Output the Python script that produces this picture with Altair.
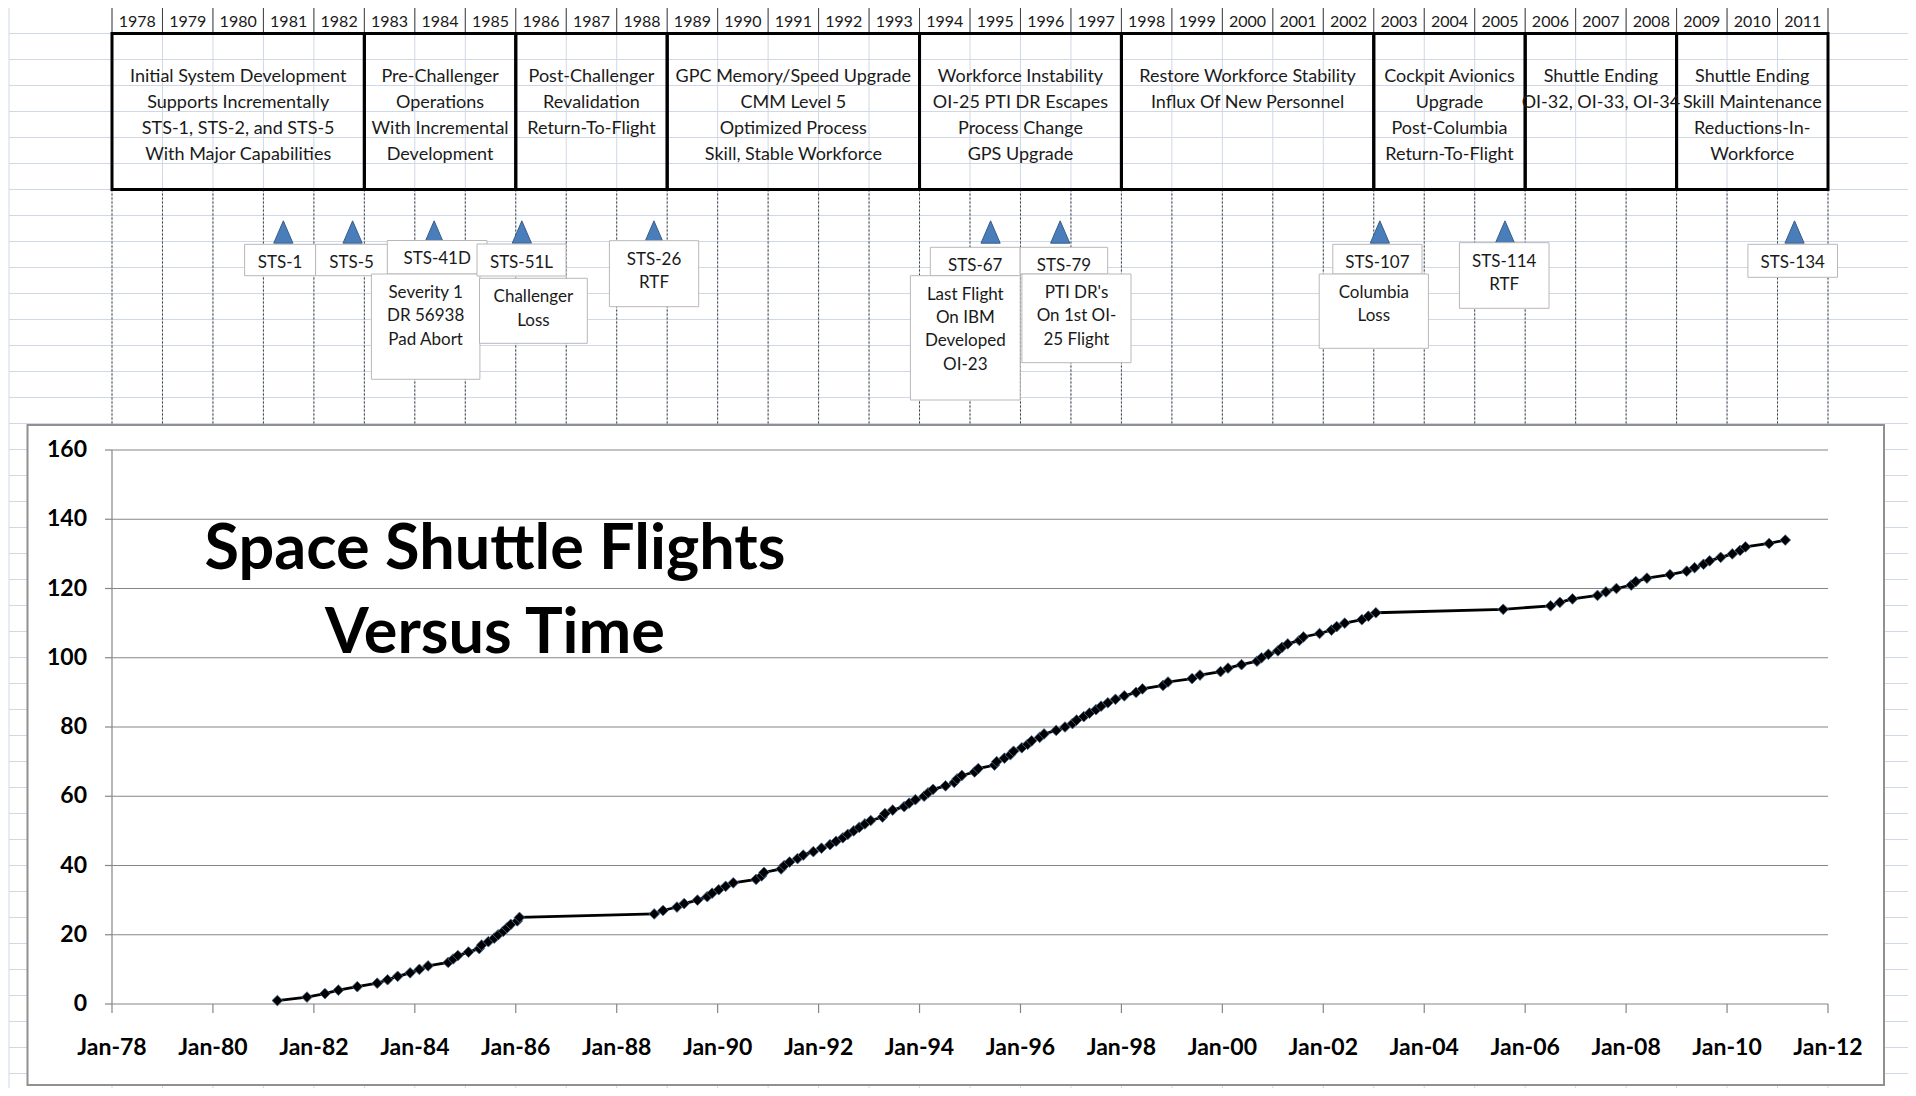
import altair as alt
import pandas as pd

# ---------------- data ----------------
years = list(range(1978, 2012))

phase_start = [1978, 1983, 1986, 1989, 1994, 1998, 2003, 2006, 2009]
phase_end = [1982, 1985, 1988, 1993, 1997, 2002, 2005, 2008, 2011]
phase_text = [
    "Initial System Development\nSupports Incrementally\nSTS-1, STS-2, and STS-5\nWith Major Capabilities",
    "Pre-Challenger\nOperations\nWith Incremental\nDevelopment",
    "Post-Challenger\nRevalidation\nReturn-To-Flight",
    "GPC Memory/Speed Upgrade\nCMM Level 5\nOptimized Process\nSkill, Stable Workforce",
    "Workforce Instability\nOI-25 PTI DR Escapes\nProcess Change\nGPS Upgrade",
    "Restore Workforce Stability\nInflux Of New Personnel",
    "Cockpit Avionics\nUpgrade\nPost-Columbia\nReturn-To-Flight",
    "Shuttle Ending\nOI-32, OI-33, OI-34",
    "Shuttle Ending\nSkill Maintenance\nReductions-In-\nWorkforce",
]

event_names = ["STS-1", "STS-5", "STS-41D", "STS-51L", "STS-26", "STS-67",
               "STS-79", "STS-107", "STS-114", "STS-134"]
event_dates = ["1981-05-25", "1982-10-08", "1984-05-20", "1986-02-14", "1988-09-27",
               "1995-05-30", "1996-10-15", "2003-02-14", "2005-08-08", "2011-05-04"]

label_texts = [
    "STS-1", "STS-5", "STS-41D", "Severity 1\nDR 56938\nPad Abort", "STS-51L",
    "Challenger\nLoss", "STS-26\nRTF", "STS-67", "Last Flight\nOn IBM\nDeveloped\nOI-23",
    "STS-79", "PTI DR's\nOn 1st OI-\n25 Flight", "STS-107", "Columbia\nLoss",
    "STS-114\nRTF", "STS-134",
]

flight_dates = [
    "1981-04-12", "1981-11-12", "1982-03-22", "1982-06-27", "1982-11-11", "1983-04-04",
    "1983-06-18", "1983-08-30", "1983-11-28", "1984-02-03", "1984-04-06", "1984-08-30",
    "1984-10-05", "1984-11-08", "1985-01-24", "1985-04-12", "1985-04-29", "1985-06-17",
    "1985-07-29", "1985-08-27", "1985-10-03", "1985-10-30", "1985-11-26", "1986-01-12",
    "1986-01-28", "1988-09-29", "1988-12-02", "1989-03-13", "1989-05-04", "1989-08-08",
    "1989-10-18", "1989-11-22", "1990-01-09", "1990-02-28", "1990-04-24", "1990-10-06",
    "1990-11-15", "1990-12-02", "1991-04-05", "1991-04-28", "1991-06-05", "1991-08-02",
    "1991-09-12", "1991-11-24", "1992-01-22", "1992-03-24", "1992-05-07", "1992-06-25",
    "1992-07-31", "1992-09-12", "1992-10-22", "1992-12-02", "1993-01-13", "1993-04-08",
    "1993-04-26", "1993-06-21", "1993-09-12", "1993-10-18", "1993-12-02", "1994-02-03",
    "1994-03-04", "1994-04-09", "1994-07-08", "1994-09-09", "1994-09-30", "1994-11-03",
    "1995-02-03", "1995-03-02", "1995-06-27", "1995-07-13", "1995-09-07", "1995-10-20",
    "1995-11-12", "1996-01-11", "1996-02-22", "1996-03-22", "1996-05-19", "1996-06-20",
    "1996-09-16", "1996-11-19", "1997-01-12", "1997-02-11", "1997-04-04", "1997-05-15",
    "1997-07-01", "1997-08-07", "1997-09-25", "1997-11-19", "1998-01-22", "1998-04-17",
    "1998-06-02", "1998-10-29", "1998-12-04", "1999-05-27", "1999-07-23", "1999-12-19",
    "2000-02-11", "2000-05-19", "2000-09-08", "2000-10-11", "2000-11-30", "2001-02-07",
    "2001-03-08", "2001-04-19", "2001-07-12", "2001-08-10", "2001-12-05", "2002-03-01",
    "2002-04-08", "2002-06-05", "2002-10-07", "2002-11-23", "2003-01-16", "2005-07-26",
    "2006-07-04", "2006-09-09", "2006-12-09", "2007-06-08", "2007-08-08", "2007-10-23",
    "2008-02-07", "2008-03-11", "2008-05-31", "2008-11-14", "2009-03-15", "2009-05-11",
    "2009-07-15", "2009-08-28", "2009-11-16", "2010-02-08", "2010-04-05", "2010-05-14",
    "2010-11-01", "2011-02-26",
]
flight_totals = [
    1, 2, 3, 4, 5, 6, 7, 8, 9, 10, 11, 12, 13, 14, 15, 16, 17, 18, 19, 20,
    21, 22, 23, 24, 25, 26, 27, 28, 29, 30, 31, 32, 33, 34, 35, 36, 37, 38, 39, 40,
    41, 42, 43, 44, 45, 46, 47, 48, 49, 50, 51, 52, 53, 54, 55, 56, 57, 58, 59, 60,
    61, 62, 63, 64, 65, 66, 67, 68, 69, 70, 71, 72, 73, 74, 75, 76, 77, 78, 79, 80,
    81, 82, 83, 84, 85, 86, 87, 88, 89, 90, 91, 92, 93, 94, 95, 96, 97, 98, 99, 100,
    101, 102, 103, 104, 105, 106, 107, 108, 109, 110, 111, 112, 113, 114, 115, 116,
    117, 118, 119, 120, 121, 122, 123, 124, 125, 126, 127, 128, 129, 130, 131, 132,
    133, 134,
]
y_ticks = [0, 20, 40, 60, 80, 100, 120, 140, 160]
y_tick_labels = ["0", "20", "40", "60", "80", "100", "120", "140", "160"]
x_ticks = [1978, 1980, 1982, 1984, 1986, 1988, 1990, 1992, 1994, 1996, 1998, 2000,
           2002, 2004, 2006, 2008, 2010, 2012]
x_tick_labels = ["Jan-78", "Jan-80", "Jan-82", "Jan-84", "Jan-86", "Jan-88", "Jan-90",
                 "Jan-92", "Jan-94", "Jan-96", "Jan-98", "Jan-00", "Jan-02", "Jan-04",
                 "Jan-06", "Jan-08", "Jan-10", "Jan-12"]
title_text = "Space Shuttle Flights\nVersus Time"

# ---------------- layout (page pixels) ----------------
X0, Y0 = 112, 450          # page position of the plot origin
W, H = 1716, 554           # plot area
def px(x): return x - X0
def py(y): return y - Y0

CH_L, CH_R, CH_T, CH_B = 27.5, 1884, 425, 1085   # chart object frame on the page

label_boxes = [  # x0, x1, y0, y1 on the page
    (244.6, 315.6, 244.3, 275.7), (315.6, 387.5, 244.3, 275.7),
    (387.3, 487.0, 240.5, 274.0), (371.4, 479.9, 274.0, 379.3),
    (477.0, 566.0, 244.0, 276.0), (479.5, 587.3, 278.3, 343.3),
    (609.4, 698.7, 240.7, 306.7), (930.3, 1020.2, 247.3, 275.7),
    (910.4, 1020.2, 275.7, 400.0), (1020.2, 1107.7, 247.3, 274.0),
    (1021.9, 1131.0, 274.0, 362.7), (1332.8, 1422.0, 244.3, 274.0),
    (1319.2, 1428.4, 274.0, 348.3), (1459.4, 1549.0, 242.7, 308.3),
    (1747.9, 1837.5, 244.3, 277.3),
]

FONT = "Lato"
GRID = "#d0d7e5"
AXC = "#868686"
TXT = "#1a1a1a"
LAB_FS = 17
PH_FS = 18
AX_FS = 23


def frac_year(s):
    d = pd.Timestamp(s)
    n = 366 if d.is_leap_year else 365
    return d.year + (d.dayofyear - 1) / n


xscale = alt.Scale(domain=[1978, 2012], nice=False, zero=False)
yscale = alt.Scale(domain=[0, 160], nice=False, zero=False)

# spreadsheet row lines (split around the chart object)
seg = []
for k in range(1, 42):
    yp = 7.5 + 26 * k
    if CH_T < yp < CH_B:
        seg.append((py(yp), px(9), px(CH_L)))
        seg.append((py(yp), px(CH_R), px(1916)))
    else:
        seg.append((py(yp), px(9), px(1916)))
rows_df = pd.DataFrame(seg, columns=["y", "xa", "xb"])

bounds = years + [years[-1] + 1]
bounds_df = pd.DataFrame({"x": bounds})
colseg_df = pd.DataFrame(
    [(b, py(8), py(CH_T)) for b in bounds] + [(b, py(CH_B), py(1090)) for b in bounds],
    columns=["x", "ya", "yb"])
yr_df = pd.DataFrame({"xc": [y + 0.5 for y in years], "label": [str(y) for y in years]})
phase_df = pd.DataFrame({
    "s": phase_start,
    "e": [e + 1 for e in phase_end],
    "m": [(s + e + 1) / 2 for s, e in zip(phase_start, phase_end)],
    "text": phase_text,
})
tri_df = pd.DataFrame({"x": [frac_year(d) for d in event_dates], "name": event_names})
lab_df = pd.DataFrame({
    "x0": [px(b[0]) for b in label_boxes],
    "x1": [px(b[1]) for b in label_boxes],
    "y0": [py(b[2]) for b in label_boxes],
    "y1": [py(b[3]) for b in label_boxes],
    "xc": [px((b[0] + b[1]) / 2) for b in label_boxes],
    "yt": [py(b[2] + 18.3 - 0.43 * LAB_FS) for b in label_boxes],
    "text": label_texts,
})
one_df = pd.DataFrame({"a": [0]})
ytk_df = pd.DataFrame({"v": y_ticks, "label": y_tick_labels})
xtk_df = pd.DataFrame({"v": x_ticks, "label": x_tick_labels})
title_df = pd.DataFrame({"text": [title_text]})
fl_df = pd.DataFrame({"t": [frac_year(d) for d in flight_dates], "n": flight_totals})

X = lambda f: alt.X(f, scale=xscale, axis=None)
Y = lambda f: alt.Y(f, scale=yscale, axis=None)

# spreadsheet grid
bg_rows = alt.Chart(rows_df).mark_rule(color=GRID, strokeWidth=1).encode(
    y=alt.Y("y:Q", scale=None), x=alt.X("xa:Q", scale=None), x2="xb:Q")
bg_cols = alt.Chart(colseg_df).mark_rule(color=GRID, strokeWidth=1).encode(
    x=X("x:Q"), y=alt.Y("ya:Q", scale=None), y2="yb:Q")
bg_colA = alt.Chart(one_df).mark_rule(color=GRID, strokeWidth=1).encode(
    x=alt.value(px(9)), y=alt.value(py(8)), y2=alt.value(py(1090)))

# year header row
yr_sep = alt.Chart(bounds_df).mark_rule(color="#3f3f3f", strokeWidth=1).encode(
    x=X("x:Q"), y=alt.value(py(7)), y2=alt.value(py(33.5)))
yr_txt = alt.Chart(yr_df).mark_text(font=FONT, fontSize=16, color=TXT).encode(
    x=X("xc:Q"), y=alt.value(py(21.5)), text="label:N")

# dotted column borders under the phase boxes
dots = alt.Chart(bounds_df).mark_rule(color="#3a3a3a", strokeWidth=1, strokeDash=[2, 2]).encode(
    x=X("x:Q"), y=alt.value(py(189.5)), y2=alt.value(py(CH_T)))

# phase boxes
ph_box = alt.Chart(phase_df).mark_rect(filled=False, stroke="black", strokeWidth=3).encode(
    x=X("s:Q"), x2="e:Q", y=alt.value(py(33.5)), y2=alt.value(py(189.5)))
ph_txt = alt.Chart(phase_df).mark_text(
    font=FONT, fontSize=PH_FS, color=TXT, lineBreak="\n", baseline="top", lineHeight=26
).encode(x=X("m:Q"), y=alt.value(py(75.5 - 0.43 * PH_FS)), text="text:N")

# event triangles
tri = alt.Chart(tri_df).mark_point(
    shape="M-0.86,1L0.86,1L0,-1Z", filled=True, fill="#4a7ebb", color="#4a7ebb",
    stroke="#385d8a", strokeWidth=1, size=500, opacity=1
).encode(x=X("x:Q"), y=alt.value(py(232)))

# event label boxes
lab_box = alt.Chart(lab_df).mark_rect(fill="white", stroke="#b8b8b8", strokeWidth=1).encode(
    x=alt.X("x0:Q", scale=None), x2="x1:Q", y=alt.Y("y0:Q", scale=None), y2="y1:Q")
lab_txt = alt.Chart(lab_df).mark_text(
    font=FONT, fontSize=LAB_FS, color=TXT, lineBreak="\n", baseline="top", lineHeight=23.3
).encode(x=alt.X("xc:Q", scale=None), y=alt.Y("yt:Q", scale=None), text="text:N")

# chart object frame
area = alt.Chart(one_df).mark_rect(filled=False, stroke="#909090", strokeWidth=2).encode(
    x=alt.value(px(CH_L)), x2=alt.value(px(CH_R)), y=alt.value(py(CH_T)), y2=alt.value(py(CH_B)))

# value axis: gridlines, ticks, line, labels
gridl = alt.Chart(ytk_df).mark_rule(color=AXC, strokeWidth=1.2).encode(
    y=Y("v:Q"), x=alt.value(0), x2=alt.value(W))
ytick = alt.Chart(ytk_df).mark_rule(color=AXC, strokeWidth=1.2).encode(
    y=Y("v:Q"), x=alt.value(-7), x2=alt.value(0))
ydom = alt.Chart(one_df).mark_rule(color=AXC, strokeWidth=1.2).encode(
    x=alt.value(0), y=alt.value(0), y2=alt.value(H))
ylab = alt.Chart(ytk_df).mark_text(
    font=FONT, fontSize=AX_FS, fontWeight="bold", color="black", align="right", baseline="middle"
).encode(y=Y("v:Q"), x=alt.value(-25), text="label:N")

# time axis: ticks and labels
xtick = alt.Chart(xtk_df).mark_rule(color=AXC, strokeWidth=1.2).encode(
    x=X("v:Q"), y=alt.value(H), y2=alt.value(H + 9))
xlab = alt.Chart(xtk_df).mark_text(
    font=FONT, fontSize=AX_FS, fontWeight="bold", color="black", align="center", baseline="top"
).encode(x=X("v:Q"), y=alt.value(H + 33), text="label:N")

title = alt.Chart(title_df).mark_text(
    font=FONT, fontSize=63, fontWeight="bold", color="black", lineBreak="\n",
    baseline="alphabetic", lineHeight=84
).encode(x=alt.value(px(495)), y=alt.value(py(569)), text="text:N")

line = alt.Chart(fl_df).mark_line(color="black", strokeWidth=2.8).encode(
    x=X("t:Q"), y=Y("n:Q"))
pts = alt.Chart(fl_df).mark_point(
    shape="diamond", filled=True, fill="black", color="black", stroke="#4d6f99",
    strokeWidth=0.8, size=115, opacity=1
).encode(x=X("t:Q"), y=Y("n:Q"))

chart = alt.layer(
    bg_rows, bg_cols, bg_colA, yr_sep, yr_txt, dots, ph_box, ph_txt, tri,
    lab_box, lab_txt, area, gridl, ytick, ydom, ylab, xtick, xlab, title, line, pts
).properties(
    width=W, height=H,
    padding={"left": 104, "top": 442, "right": 80, "bottom": 84},
    autosize=alt.AutoSizeParams(type="none"),
    background="white",
).configure_view(stroke=None)

chart.save("out.html", embed_options={"renderer": "svg", "actions": False})
